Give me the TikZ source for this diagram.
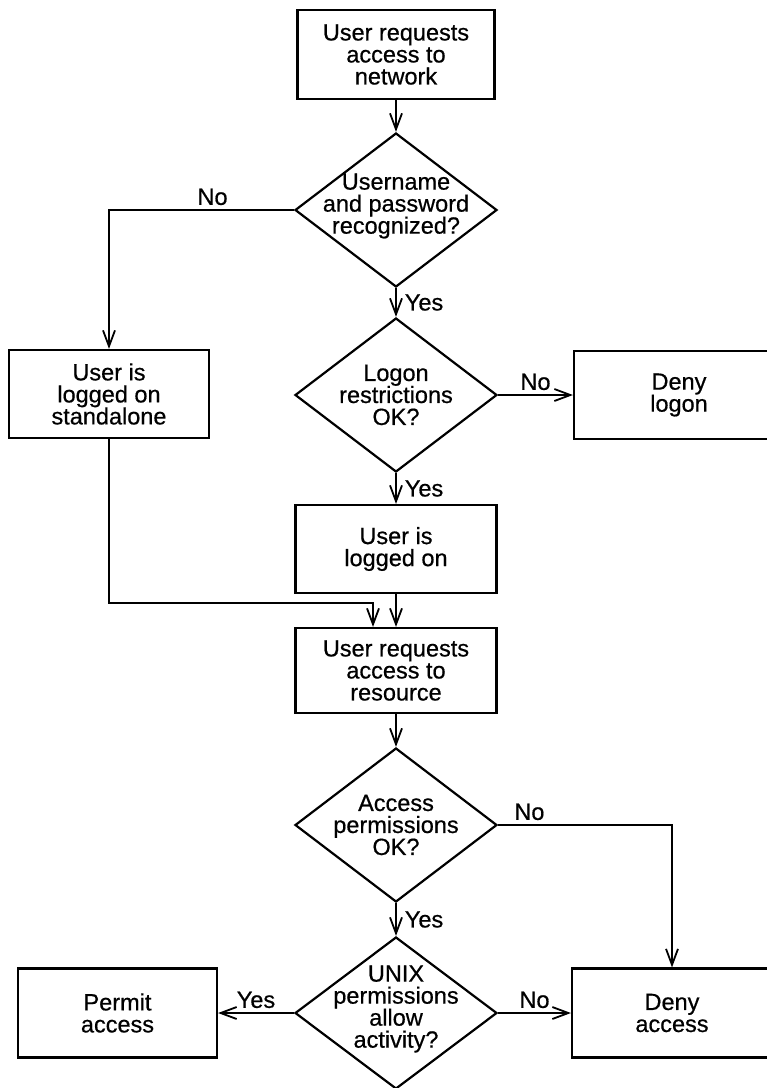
\documentclass[tikz,border=0pt]{standalone}
\usepackage{fontspec}
\setmainfont{Liberation Sans}[FakeBold=0.6]
\usetikzlibrary{arrows.meta,shapes.geometric}
\begin{document}
\begin{tikzpicture}[x=1pt,y=-1pt,
  every node/.style={font=\fontsize{23.5}{22}\selectfont},
  box/.style={draw, line width=2.2pt, minimum width=200pt, minimum height=88pt,
    align=center, inner sep=0pt},
  dia/.style={draw, diamond, line width=2.2pt, minimum width=202pt,
    minimum height=154pt, inner sep=0pt},
  txt/.style={align=center, inner sep=0pt},
  flow/.style={draw, line width=1.8pt,
    -{Straight Barb[length=16pt,width=12pt,line width=1.8pt]}},
  lab/.style={inner sep=0pt}
]
\useasboundingbox (0,0) rectangle (767,1088);

% main column
\node[box, minimum width=197pt, minimum height=89pt] (net) at (396,54.5)
  {User requests\\access to\\network};
\node[dia, label={[txt, yshift=4pt]center:{Username\\and password\\recognized?}}]
  (cred) at (396,210) {};
\node[dia, label={[txt]center:{Logon\\restrictions\\OK?}}]
  (restr) at (396,395) {};
\node[box, minimum width=201pt] (logged) at (396,549) {User is\\logged on};
\node[box, minimum width=201pt, minimum height=85pt] (req) at (396,670.5)
  {User requests\\access to\\resource};
\node[dia, label={[txt]center:{Access\\permissions\\OK?}}]
  (acc) at (396,825) {};
\node[dia, minimum height=152pt,
  label={[txt, yshift=4pt]center:{UNIX\\permissions\\allow\\activity?}}]
  (unix) at (396,1013) {};

% side boxes
\node[box] (alone) at (109,394) {User is\\logged on\\standalone};
\node[box, minimum width=210pt] (denylog) at (679,395) {Deny\\logon};
\node[box, minimum width=200pt, minimum height=89pt] (denyacc) at (672,1013)
  {Deny\\access};
\node[box, minimum width=199pt, minimum height=89pt] (permit) at (117.5,1013)
  {Permit\\access};

\coordinate (join) at (373,603);

% connectors
\draw[flow] (net) -- (cred);
\draw[flow] (cred.west) -| (alone.north)
  node[lab, pos=0.22, above=4pt] {No};
\draw[flow] (cred) -- (restr) node[lab, midway, right=8pt] {Yes};
\draw[flow] (restr) -- (denylog) node[lab, midway, above=4pt] {No};
\draw[flow] (restr) -- (logged) node[lab, midway, right=8pt] {Yes};
\draw[flow] (logged) -- (req);
\draw[flow] (alone.south) |- (join) -- (req.north -| join);
\draw[flow] (req) -- (acc);
\draw[flow] (acc.east) -| (denyacc.north)
  node[lab, pos=0.09, above=4pt] {No};
\draw[flow] (acc) -- (unix) node[lab, midway, right=8pt] {Yes};
\draw[flow] (unix) -- (permit) node[lab, midway, above=4pt] {Yes};
\draw[flow] (unix) -- (denyacc) node[lab, midway, above=4pt] {No};
\end{tikzpicture}
\end{document}
